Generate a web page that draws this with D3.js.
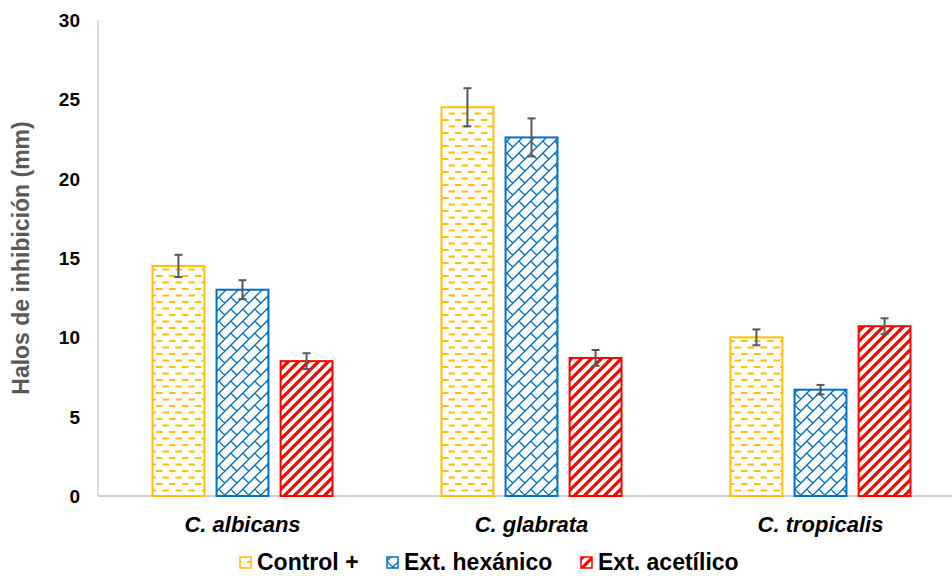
<!DOCTYPE html>
<html>
<head>
<meta charset="utf-8">
<script src="https://cdn.jsdelivr.net/npm/d3@7"></script>
<style>
  body { margin: 0; background: #fff; }
  svg { display: block; font-family: Arial, "Liberation Sans", sans-serif; }
</style>
</head>
<body>
<svg id="chart" width="952" height="576"></svg>
<script>
const categories = ['C. albicans', 'C. glabrata', 'C. tropicalis'];
const seriesNames = ['Control +', 'Ext. hexánico', 'Ext. acetílico'];
const controlVals = [14.5, 24.5, 10.0];
const hexanicoVals = [13.0, 22.6, 6.7];
const aceticoVals = [8.5, 8.7, 10.7];
const controlErr = [0.7, 1.2, 0.5];
const hexanicoErr = [0.6, 1.2, 0.3];
const aceticoErr = [0.5, 0.5, 0.5];
const yTicks = [0, 5, 10, 15, 20, 25, 30];

const colors = ['#FFC000', '#0070C0', '#FF0000'];
const patternIds = ['patDash', 'patWeave', 'patStripe'];

const values = [controlVals, hexanicoVals, aceticoVals];
const errors = [controlErr, hexanicoErr, aceticoErr];

const svg = d3.select('#chart');
const plotLeft = 98, plotRight = 965, plotTop = 20, plotBottom = 496;

const x = d3.scaleBand().domain(categories).range([plotLeft, plotRight]);
const xs = d3.scaleBand().domain(seriesNames).range([-90, 90]).paddingInner(0.19);
const y = d3.scaleLinear().domain([0, 30]).range([plotBottom, plotTop]);

// patterns
const defs = svg.append('defs');
const pd = defs.append('pattern').attr('id', patternIds[0])
  .attr('patternUnits', 'userSpaceOnUse').attr('width', 13).attr('height', 13);
pd.append('rect').attr('width', 13).attr('height', 13).attr('fill', '#fff');
pd.append('line').attr('x1', 0).attr('x2', 6.5).attr('y1', 3).attr('y2', 3)
  .attr('stroke', colors[0]).attr('stroke-width', 2);
pd.append('line').attr('x1', 6.5).attr('x2', 13).attr('y1', 9.5).attr('y2', 9.5)
  .attr('stroke', colors[0]).attr('stroke-width', 2);

// weave: diagonal "/" lines joined by offset "\" links
const pw = defs.append('pattern').attr('id', patternIds[1])
  .attr('patternUnits', 'userSpaceOnUse').attr('width', 12).attr('height', 12);
pw.append('rect').attr('width', 12).attr('height', 12).attr('fill', '#fff');
pw.append('path').attr('d', 'M0,12 L12,0 M-3,3 L3,-3 M9,15 L15,9')
  .attr('stroke', colors[1]).attr('stroke-width', 1.4).attr('fill', 'none');
pw.append('path').attr('d', 'M3,9 Q4.5,11.5 9,15 M3,-3 Q4.5,-0.5 9,3')
  .attr('stroke', colors[1]).attr('stroke-width', 1.3).attr('fill', 'none');

const ps = defs.append('pattern').attr('id', patternIds[2])
  .attr('patternUnits', 'userSpaceOnUse').attr('width', 10).attr('height', 10);
ps.append('rect').attr('width', 10).attr('height', 10).attr('fill', '#fff');
ps.append('path').attr('d', 'M-2.5,2.5 L2.5,-2.5 M0,10 L10,0 M7.5,12.5 L12.5,7.5')
  .attr('stroke', colors[2]).attr('stroke-width', 3.2);

// axes lines
svg.append('line').attr('x1', plotLeft).attr('x2', plotLeft).attr('y1', plotTop).attr('y2', plotBottom)
  .attr('stroke', '#bfbfbf').attr('stroke-width', 1);
svg.append('line').attr('x1', plotLeft).attr('x2', 952).attr('y1', plotBottom).attr('y2', plotBottom)
  .attr('stroke', '#bfbfbf').attr('stroke-width', 1.5);

// y tick labels
svg.append('g').selectAll('text').data(yTicks).join('text')
  .attr('x', 80).attr('y', d => y(d)).attr('dy', '0.36em')
  .attr('text-anchor', 'end').attr('font-size', 19).attr('font-weight', 'bold')
  .attr('fill', '#000').text(d => d);

// y title
svg.append('text')
  .attr('transform', `translate(29,${(plotTop + plotBottom) / 2}) rotate(-90)`)
  .attr('text-anchor', 'middle').attr('font-size', 23).attr('font-weight', 'bold')
  .attr('fill', '#595959').text('Halos de inhibición (mm)');

// bars
seriesNames.forEach((s, si) => {
  const g = svg.append('g');
  g.selectAll('rect').data(categories).join('rect')
    .attr('x', c => x(c) + x.bandwidth() / 2 + xs(s))
    .attr('y', (c, i) => y(values[si][i]))
    .attr('width', xs.bandwidth())
    .attr('height', (c, i) => y(0) - y(values[si][i]))
    .attr('fill', `url(#${patternIds[si]})`)
    .attr('stroke', colors[si]).attr('stroke-width', 2);

  const eg = svg.append('g').attr('stroke', '#595959').attr('stroke-width', 2);
  categories.forEach((c, i) => {
    const cx = x(c) + x.bandwidth() / 2 + xs(s) + xs.bandwidth() / 2;
    const hi = y(values[si][i] + errors[si][i]);
    const lo = y(values[si][i] - errors[si][i]);
    eg.append('line').attr('x1', cx).attr('x2', cx).attr('y1', hi).attr('y2', lo);
    eg.append('line').attr('x1', cx - 4).attr('x2', cx + 4).attr('y1', hi).attr('y2', hi);
    eg.append('line').attr('x1', cx - 4).attr('x2', cx + 4).attr('y1', lo).attr('y2', lo);
  });
});

// category labels
svg.append('g').selectAll('text').data(categories).join('text')
  .attr('x', c => x(c) + x.bandwidth() / 2).attr('y', 532)
  .attr('text-anchor', 'middle').attr('font-size', 22)
  .attr('font-weight', 'bold').attr('font-style', 'italic')
  .attr('fill', '#000').text(c => c);

// legend
const legendX = [240, 387, 581];
const lg = svg.append('g');
seriesNames.forEach((s, si) => {
  lg.append('rect').attr('x', legendX[si]).attr('y', 557).attr('width', 11).attr('height', 11)
    .attr('fill', `url(#${patternIds[si]})`).attr('stroke', colors[si]).attr('stroke-width', 1.5);
  lg.append('text').attr('x', legendX[si] + 17).attr('y', 570)
    .attr('font-size', 23).attr('font-weight', 'bold').attr('fill', '#000').text(s);
});
</script>
</body>
</html>
